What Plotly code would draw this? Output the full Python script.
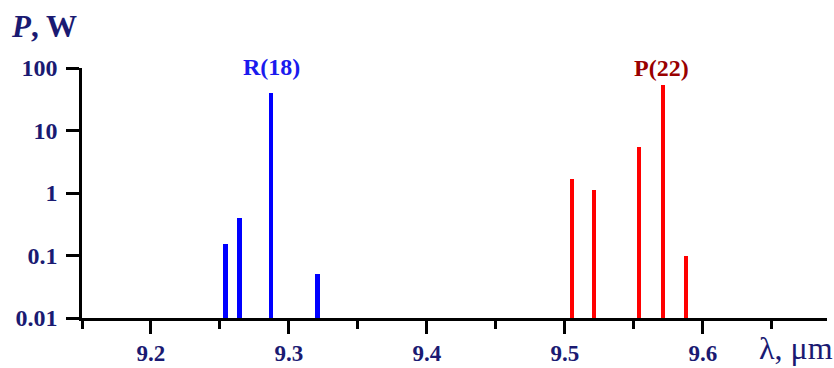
import plotly.graph_objects as go

# Data
r_wavelengths = [9.254, 9.264, 9.287, 9.321]
r_power = [0.15, 0.40, 40.0, 0.05]
p_wavelengths = [9.505, 9.521, 9.554, 9.571, 9.588]
p_power = [1.65, 1.13, 5.4, 54.0, 0.10]
x_ticks = [9.2, 9.3, 9.4, 9.5, 9.6]
y_ticks = [0.01, 0.1, 1, 10, 100]
y_ticklabels = ["0.01", "0.1", "1", "10", "100"]

NAVY = "#1a1a72"
FONT = "Liberation Serif, Times New Roman, serif"

fig = go.Figure()
fig.add_trace(go.Bar(x=r_wavelengths, y=r_power, width=0.0036,
                     marker=dict(color="#0000ff", line=dict(width=0)),
                     showlegend=False))
fig.add_trace(go.Bar(x=p_wavelengths, y=p_power, width=0.0029,
                     marker=dict(color="#ff0000", line=dict(width=0)),
                     showlegend=False))

fig.update_layout(
    width=834, height=368,
    margin=dict(l=82, r=7, t=68, b=50, autoexpand=False),
    paper_bgcolor="white", plot_bgcolor="white",
    font=dict(family=FONT, color=NAVY),
    bargap=0,
    xaxis=dict(
        range=[9.15, 9.69], showgrid=False, zeroline=False, automargin=False,
        showline=True, linecolor="black", linewidth=2.5,
        tickmode="array", tickvals=x_ticks, ticktext=[f"{v:.1f}" for v in x_ticks],
        ticks="outside", ticklen=13, tickwidth=2.5, tickcolor="black",
        tickfont=dict(family=FONT, size=23, color=NAVY, weight="bold"),
        minor=dict(tickmode="linear", tick0=9.15, dtick=0.1, ticks="outside",
                   ticklen=8, tickwidth=2.5, tickcolor="black", showgrid=False),
    ),
    yaxis=dict(
        type="log", range=[-2, 2], showgrid=False, zeroline=False, automargin=False,
        showline=True, linecolor="black", linewidth=2.5,
        tickmode="array", tickvals=y_ticks, ticktext=y_ticklabels,
        ticks="outside", ticklen=13, tickwidth=2.5, tickcolor="black",
        ticklabelstandoff=4,
        tickfont=dict(family=FONT, size=24, color=NAVY, weight="bold"),
    ),
    annotations=[
        dict(text="<b><i>P</i>, W</b>", xref="paper", yref="paper",
             x=(9 - 82) / 745, y=(318 - 26) / 250, xanchor="left", yanchor="middle",
             showarrow=False, font=dict(family=FONT, size=31, color=NAVY)),
        dict(text="λ, μm", xref="paper", yref="paper",
             x=(835 - 82) / 745, y=(318 - 348) / 250, xanchor="right", yanchor="middle",
             showarrow=False, font=dict(family=FONT, size=32, color=NAVY)),
        dict(text="<b>R(18)</b>", xref="x", yref="paper",
             x=9.287, y=(318 - 67) / 250, xanchor="center", yanchor="middle",
             showarrow=False, font=dict(family=FONT, size=24, color="#1a1aee")),
        dict(text="<b>P(22)</b>", xref="x", yref="paper",
             x=9.57, y=(318 - 68) / 250, xanchor="center", yanchor="middle",
             showarrow=False, font=dict(family=FONT, size=24, color="#990000")),
    ],
)

fig.write_html("out.html")
